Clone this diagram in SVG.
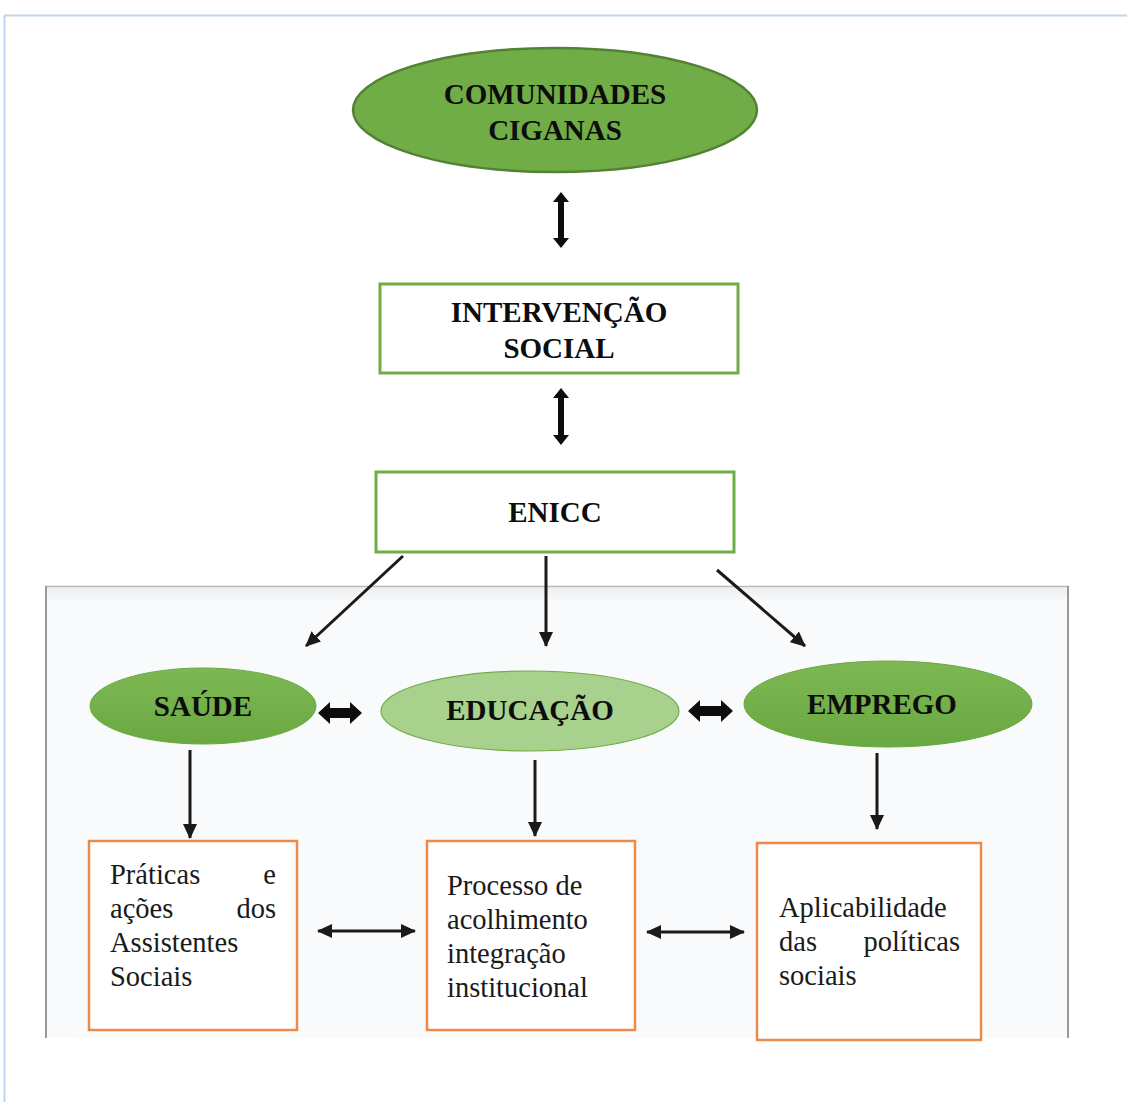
<svg xmlns="http://www.w3.org/2000/svg" width="1127" height="1102" viewBox="0 0 1127 1102">
<defs>
<style>
.bold{font-family:"Liberation Serif","Times New Roman",serif;font-weight:bold;font-size:29px;fill:#0d0d0d;text-anchor:middle}
.reg{font-family:"Liberation Serif","Times New Roman",serif;font-size:28.5px;fill:#1a1a1a}
.gbox{fill:#ffffff;stroke:#70ad47;stroke-width:3}
.obox{fill:#ffffff;stroke:#ed8a4a;stroke-width:2.5}
.line{stroke:#1a1a1a;stroke-width:3;fill:none}
.blk{fill:#0d0d0d}
</style>
<marker id="ah" markerUnits="userSpaceOnUse" markerWidth="16" markerHeight="16" viewBox="0 0 16 16" refX="14" refY="8" orient="auto-start-reverse">
<path d="M0,1 L15,8 L0,15 Z" fill="#1a1a1a"/>
</marker>
<linearGradient id="gS" x1="0" y1="0" x2="0" y2="1">
<stop offset="0" stop-color="#7db853"/><stop offset="1" stop-color="#6aa842"/>
</linearGradient>
<linearGradient id="panelEdge" x1="0" y1="0" x2="0" y2="1">
<stop offset="0" stop-color="#eceef0"/><stop offset="1" stop-color="#f9fafb"/>
</linearGradient>
</defs>
<rect width="1127" height="1102" fill="#ffffff"/>
<g id="frame">
<line x1="4" y1="15.5" x2="1127" y2="15.5" stroke="#bdd7ee" stroke-width="2"/>
<line x1="4.5" y1="15" x2="4.5" y2="1102" stroke="#bdd7ee" stroke-width="2"/>
</g>
<g id="panel">
<rect x="45" y="586" width="1024" height="452" fill="#f9fafb"/>
<rect x="47" y="588" width="1020" height="14" fill="url(#panelEdge)"/>
<line x1="45" y1="586.5" x2="1069" y2="586.5" stroke="#b8b8b8" stroke-width="1.5"/>
<line x1="46" y1="586" x2="46" y2="1038" stroke="#9a9a9a" stroke-width="2"/>
<line x1="1068" y1="586" x2="1068" y2="1038" stroke="#9a9a9a" stroke-width="2"/>
<line x1="47" y1="1038" x2="75" y2="1038" stroke="#ffffff" stroke-width="2"/>
</g>
<g id="node-comunidades">
<ellipse cx="555" cy="110" rx="202" ry="62" fill="#70ad47" stroke="#548235" stroke-width="2.5"/>
<text class="bold" x="555" y="104" font-size="29.5">COMUNIDADES</text>
<text class="bold" x="555" y="140" font-size="29.5">CIGANAS</text>
</g>
<g id="node-intervencao">
<rect class="gbox" x="380" y="284" width="358" height="89"/>
<text class="bold" x="559" y="322">INTERVENÇÃO</text>
<text class="bold" x="559" y="358">SOCIAL</text>
</g>
<g id="node-enicc">
<rect class="gbox" x="376" y="472" width="358" height="80"/>
<text class="bold" x="555" y="522">ENICC</text>
</g>
<g id="node-saude">
<ellipse cx="203" cy="706" rx="113" ry="38" fill="url(#gS)" stroke="#6aa842" stroke-width="1"/>
<text class="bold" x="203" y="716">SAÚDE</text>
</g>
<g id="node-educacao">
<ellipse cx="530" cy="711" rx="149" ry="40" fill="#a9d18e" stroke="#70ad47" stroke-width="1.2"/>
<text class="bold" x="530" y="720">EDUCAÇÃO</text>
</g>
<g id="node-emprego">
<ellipse cx="888" cy="704" rx="144" ry="43" fill="url(#gS)" stroke="#6aa842" stroke-width="1"/>
<text class="bold" x="882" y="714">EMPREGO</text>
</g>
<g id="node-praticas">
<rect class="obox" x="89" y="841" width="208" height="189"/>
<text class="reg" x="110" y="884">Práticas</text>
<text class="reg" x="276" y="884" text-anchor="end">e</text>
<text class="reg" x="110" y="918">ações</text>
<text class="reg" x="276" y="918" text-anchor="end">dos</text>
<text class="reg" x="110" y="952">Assistentes</text>
<text class="reg" x="110" y="986">Sociais</text>
</g>
<g id="node-processo">
<rect class="obox" x="427" y="841" width="208" height="189"/>
<text class="reg" x="447" y="895">Processo de</text>
<text class="reg" x="447" y="929">acolhimento</text>
<text class="reg" x="447" y="963">integração</text>
<text class="reg" x="447" y="997">institucional</text>
</g>
<g id="node-aplicabilidade">
<rect class="obox" x="757" y="843" width="224" height="197"/>
<text class="reg" x="779" y="917">Aplicabilidade</text>
<text class="reg" x="779" y="951">das</text>
<text class="reg" x="960" y="951" text-anchor="end">políticas</text>
<text class="reg" x="779" y="985">sociais</text>
</g>
<g id="connectors">
<polygon class="blk" points="561,192 569,202 564,202 564,238 569,238 561,248 553,238 558,238 558,202 553,202"/>
<polygon class="blk" points="561,388 569,398 564,398 564,435 569,435 561,445 553,435 558,435 558,398 553,398"/>
<polygon class="blk" points="318,713 330,702 330,708 350,708 350,702 362,713 350,724 350,718 330,718 330,724"/>
<polygon class="blk" points="688,711 700,700 700,706 721,706 721,700 733,711 721,722 721,716 700,716 700,722"/>
<line class="line" x1="403" y1="556" x2="306" y2="646" marker-end="url(#ah)"/>
<line class="line" x1="546" y1="556" x2="546" y2="646" marker-end="url(#ah)"/>
<line class="line" x1="717" y1="570" x2="805" y2="646" marker-end="url(#ah)"/>
<line class="line" x1="190" y1="750" x2="190" y2="838" marker-end="url(#ah)"/>
<line class="line" x1="535" y1="760" x2="535" y2="836" marker-end="url(#ah)"/>
<line class="line" x1="877" y1="753" x2="877" y2="829" marker-end="url(#ah)"/>
<line class="line" x1="318" y1="931" x2="415" y2="931" marker-start="url(#ah)" marker-end="url(#ah)"/>
<line class="line" x1="647" y1="932" x2="744" y2="932" marker-start="url(#ah)" marker-end="url(#ah)"/>
</g>
</svg>
